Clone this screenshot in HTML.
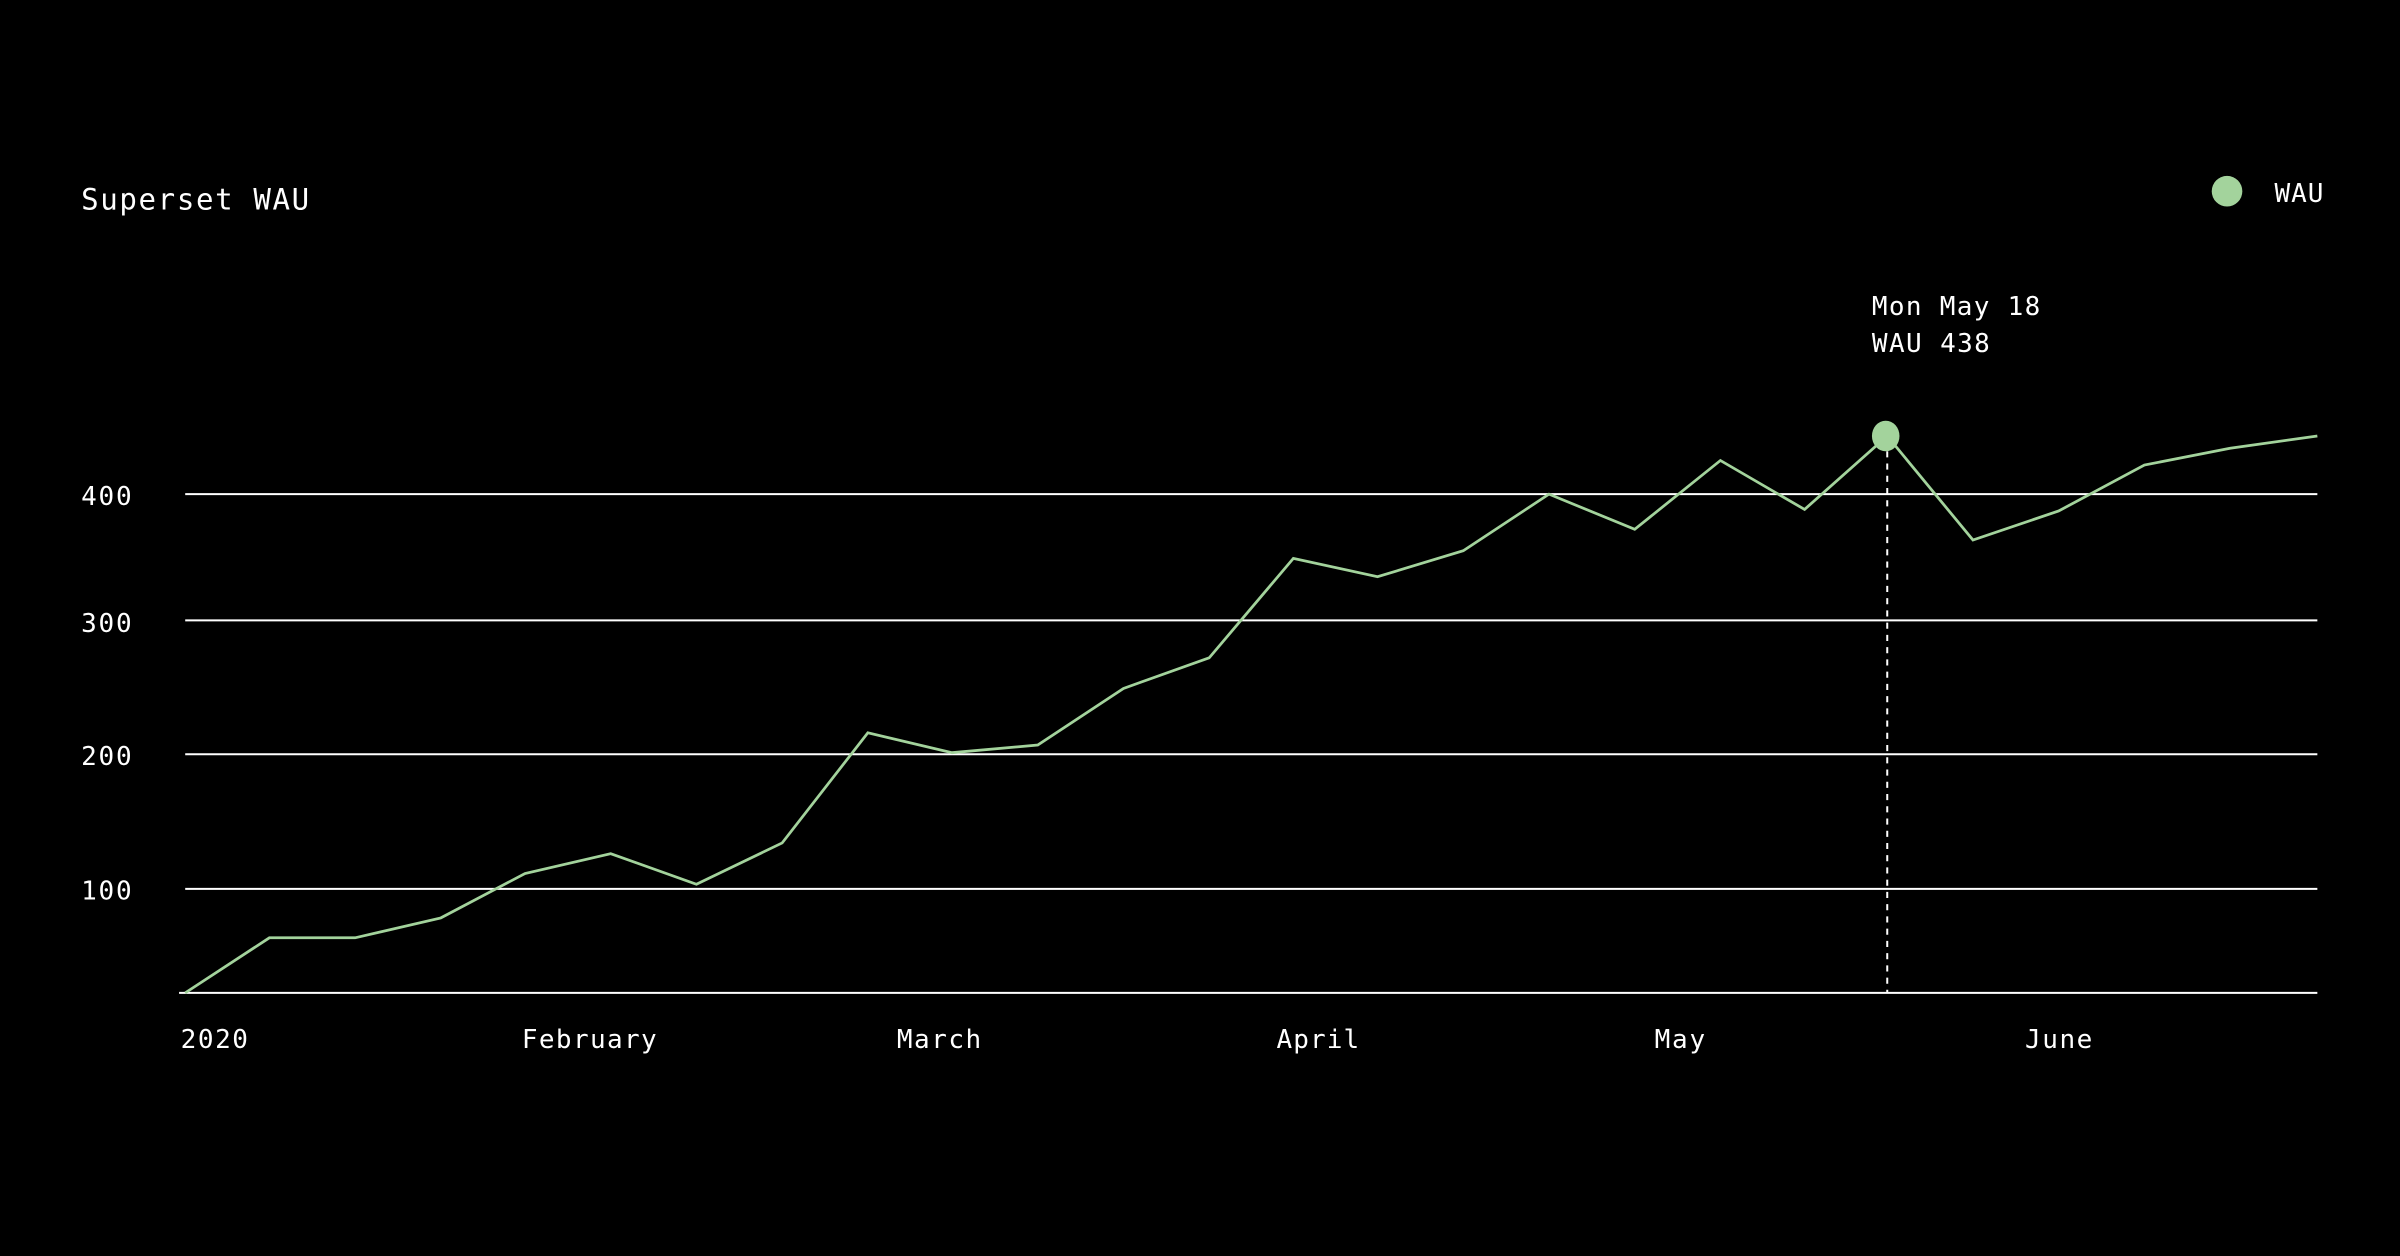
<!DOCTYPE html>
<html><head><meta charset="utf-8"><style>
html,body{margin:0;padding:0;background:#000;width:2400px;height:1256px;overflow:hidden}
svg{display:block}
text{font-family:"DejaVu Sans Mono","Liberation Mono",monospace;fill:#fff}
</style></head><body>
<svg width="2400" height="1256" viewBox="0 0 1568 821" preserveAspectRatio="none">
<rect width="1568" height="821" fill="#000"/>
<text x="53" y="137" font-size="19" textLength="149" lengthAdjust="spacing">Superset WAU</text>
<circle cx="1455" cy="125" r="10" fill="#a3d39c"/>
<text x="1486" y="132" font-size="17" textLength="32" lengthAdjust="spacing">WAU</text>
<g stroke="#fff" stroke-width="1.3">
<line x1="121" y1="323" x2="1514" y2="323"/>
<line x1="121" y1="405.5" x2="1514" y2="405.5"/>
<line x1="121" y1="493" x2="1514" y2="493"/>
<line x1="121" y1="581" x2="1514" y2="581"/>
<line x1="117" y1="649" x2="1514" y2="649"/>
</g>
<g font-size="17">
<text x="53" y="330" textLength="33" lengthAdjust="spacing">400</text>
<text x="53" y="413" textLength="33" lengthAdjust="spacing">300</text>
<text x="53" y="500" textLength="33" lengthAdjust="spacing">200</text>
<text x="53" y="588" textLength="33" lengthAdjust="spacing">100</text>
<text x="118" y="685" textLength="44" lengthAdjust="spacing">2020</text>
<text x="341" y="685" textLength="88" lengthAdjust="spacing">February</text>
<text x="586" y="685" textLength="55" lengthAdjust="spacing">March</text>
<text x="834" y="685" textLength="54" lengthAdjust="spacing">April</text>
<text x="1081" y="685" textLength="33" lengthAdjust="spacing">May</text>
<text x="1323" y="685" textLength="44" lengthAdjust="spacing">June</text>
</g>
<polyline fill="none" stroke="#a3d39c" stroke-width="1.8" points="121,649 176,613 232,613 288,600 343,571 399,558 455,578 511,551 567,479 622,492 678,487 734,450 790,430 845,365 900,377 956,360 1012,323 1068,346 1124,301 1179,333 1233,285 1289,353 1345,334 1401,304 1457,293 1514,285"/>
<line x1="1233" y1="295" x2="1233" y2="649" stroke="#fff" stroke-width="1.3" stroke-dasharray="4,4"/>
<ellipse cx="1232" cy="285" rx="9" ry="10" fill="#a3d39c"/>
<text x="1223" y="206" font-size="17" textLength="110" lengthAdjust="spacing">Mon May 18</text>
<text x="1223" y="230" font-size="17" textLength="77" lengthAdjust="spacing">WAU 438</text>
</svg>
</body></html>
